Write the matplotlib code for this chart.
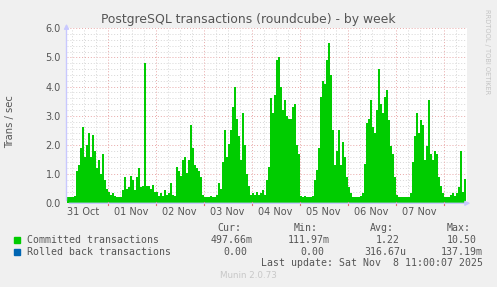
# munin style weekly graph: postgres transactions for roundcube

import matplotlib.pyplot as plt
import numpy as np

# hourly averages, hour 0 = 31 Oct 00:00
oct31 = [0.2, 0.2, 0.2, 0.2, 0.25, 1.1, 1.3, 1.9, 2.6, 1.6, 2.0, 2.4, 1.6,
         2.35, 1.8, 1.2, 1.5, 1.0, 1.7, 0.8, 0.5]  # from 03:00
nov01 = [0.4, 0.3, 0.35, 0.25, 0.2, 0.2, 0.2, 0.45, 0.9, 0.5, 0.57, 0.95,
         0.8, 0.45, 0.9, 1.2, 0.55, 0.6, 4.8, 0.6, 0.6, 0.5, 0.63, 0.4]
nov02 = [0.4, 0.25, 0.35, 0.25, 0.45, 0.3, 0.35, 0.7, 0.3, 0.25, 1.25, 1.1,
         0.95, 1.5, 1.6, 1.05, 1.5, 2.7, 1.9, 1.3, 1.2, 1.1, 0.9, 0.3]
nov03 = [0.2, 0.2, 0.2, 0.25, 0.2, 0.2, 0.3, 0.7, 0.5, 1.4, 2.5, 1.6,
         2.05, 2.5, 3.3, 4.0, 2.9, 2.3, 1.5, 3.1, 2.0, 1.0, 0.6, 0.3]
nov04 = [0.35, 0.3, 0.4, 0.3, 0.35, 0.45, 0.3, 0.8, 1.25, 3.6, 3.1, 3.7,
         4.9, 5.0, 4.0, 3.2, 3.55, 3.0, 2.9, 2.9, 3.3, 3.4, 2.0, 1.7]
nov05 = [0.25, 0.2, 0.25, 0.2, 0.2, 0.2, 0.25, 0.8, 1.15, 1.9, 3.65, 4.2,
         4.1, 4.9, 5.5, 4.4, 2.5, 1.3, 1.8, 2.5, 1.3, 2.1, 1.6, 0.9]
nov06 = [0.57, 0.35, 0.2, 0.2, 0.2, 0.2, 0.25, 0.35, 1.35, 2.75, 2.9, 3.55,
         2.6, 2.4, 3.2, 4.6, 3.4, 3.1, 3.65, 3.9, 2.85, 1.95, 1.7, 0.9]
nov07 = [0.3, 0.2, 0.2, 0.2, 0.2, 0.2, 0.2, 0.35, 1.4, 2.3, 3.1, 2.4,
         2.85, 2.7, 1.5, 1.95, 3.55, 1.7, 1.5, 1.8, 1.7, 0.9, 0.6, 0.35]
nov08 = [0.2, 0.2, 0.2, 0.3, 0.35, 0.25, 0.35, 0.55, 1.8, 0.4, 0.85]  # to 11:00

day_labels = ["31 Oct", "01 Nov", "02 Nov", "03 Nov", "04 Nov", "05 Nov",
              "06 Nov", "07 Nov"]
y_ticks = [0.0, 1.0, 2.0, 3.0, 4.0, 5.0, 6.0]

series_names = ["Committed transactions", "Rolled back transactions"]
cur_vals = ["497.66m", "0.00 "]
min_vals = ["111.97m", "0.00 "]
avg_vals = ["1.22 ", "316.67u"]
max_vals = ["10.50 ", "137.19m"]

committed = np.array(oct31 + nov01 + nov02 + nov03 + nov04 + nov05 + nov06
                     + nov07 + nov08)
edges = np.arange(3, 3 + len(committed) + 1)

W, H = 497, 287
green = "#00CC00"
blue = "#0066B3"
txt = "#555555"


def fx(x):
    return x / W


def fy(y):
    return 1 - y / H


fig = plt.figure(figsize=(W / 100, H / 100), dpi=100, facecolor="#F0F0F0")
ax = fig.add_axes([fx(66.5), fy(203.3), 400 / W, 175 / H])
ax.set_facecolor("white")

# grid, drawn first so the area covers it
for v in np.arange(0, 6.01, 0.2):
    major = abs(v - round(v)) < 1e-6
    ax.axhline(v, color="#E8A8A8" if major else "#D6D6D6", lw=0.7,
               ls=(0, (1, 2)), zorder=0)
for h in range(6, 204, 6):
    ax.axvline(h, color="#E8A8A8" if h % 24 == 0 else "#D6D6D6", lw=0.7,
               ls=(0, (1, 2)), zorder=0)

ax.stairs(committed, edges, fill=True, color=green, lw=0, zorder=2)

ax.set_xlim(3.5, 203.5)
ax.set_ylim(0, 6)
for s in ax.spines.values():
    s.set_visible(False)

ax.set_xticks([12 + 24 * i for i in range(len(day_labels))])
ax.set_xticklabels(day_labels)
ax.set_yticks(y_ticks)
ax.set_yticklabels(["%.1f" % v for v in y_ticks])
ax.tick_params(axis="both", length=0, labelsize=7, labelcolor=txt, pad=4)
ax.tick_params(axis="x", pad=3)

# axis arrows
ax.annotate("", xy=(206.8, 0), xytext=(3.5, 0), xycoords="data",
            arrowprops=dict(arrowstyle="-|>", color="#C8C8FF", lw=1,
                            mutation_scale=7), annotation_clip=False)
ax.annotate("", xy=(3.5, 6.25), xytext=(3.5, 0), xycoords="data",
            arrowprops=dict(arrowstyle="-|>", color="#C8C8FF", lw=1,
                            mutation_scale=7), annotation_clip=False)
for h in range(24, 204, 24):
    ax.plot([h, h], [-0.06, 0.06], color="#E07070", lw=0.8, clip_on=False)

fig.text(fx(248.5), fy(19), "PostgreSQL transactions (roundcube) - by week",
         ha="center", va="center", fontsize=8.9, color=txt)
fig.text(fx(10), fy(122), "Trans / sec", rotation=90, ha="center",
         va="center", fontsize=7.2, color=txt)
fig.text(fx(487), fy(52), "RRDTOOL / TOBI OETIKER", rotation=270,
         ha="center", va="center", fontsize=4.8, color="#C4C4C4")

# legend block
mono = dict(family="DejaVu Sans Mono", fontsize=7.1, color=txt, va="center")
for x, lab in zip([217, 294, 370, 447], ["Cur:", "Min:", "Avg:", "Max:"]):
    fig.text(fx(x), fy(227.7), lab, ha="left", **mono)
rows_y = [240, 251.7]
for i, (name, col) in enumerate(zip(series_names, [green, blue])):
    y = rows_y[i]
    fig.patches.append(plt.Rectangle((fx(14), fy(y + 3)), 6 / W, 6 / H,
                                     transform=fig.transFigure, color=col))
    fig.text(fx(26.7), fy(y), name, ha="left", **mono)
    for x, vals in zip([253, 330, 406, 483],
                       [cur_vals, min_vals, avg_vals, max_vals]):
        # a blank unit slot moves the number one char to the left
        xr = x - 5.95 if vals[i].endswith(" ") else x
        fig.text(fx(xr), fy(y), vals[i].rstrip(), ha="right", **mono)
fig.text(fx(483), fy(263.3), "Last update: Sat Nov  8 11:00:07 2025",
         ha="right", **mono)
fig.text(fx(248), fy(276), "Munin 2.0.73", ha="center", va="center",
         fontsize=6.3, color="#C8C8C8")

fig.savefig("out.png", dpi=100, facecolor=fig.get_facecolor())
